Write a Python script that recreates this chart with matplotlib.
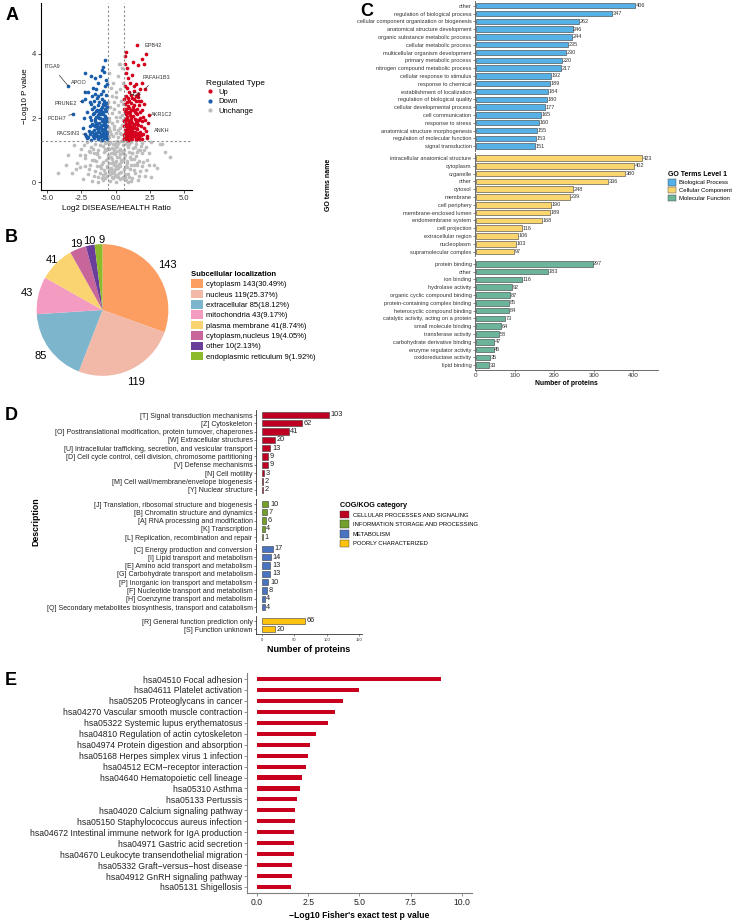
import math
import matplotlib
matplotlib.use('Agg')
import matplotlib.pyplot as plt
from matplotlib.patches import Patch
from matplotlib.lines import Line2D

plt.rcParams['font.family'] = ['Liberation Sans', 'DejaVu Sans']

# ---------------- data ----------------
# A: volcano
up_x = [0.62, 0.7, 0.8, 0.9, 1.0, 1.1, 1.2, 1.35, 1.5, 1.7, 1.9,
        0.65, 0.75, 0.88, 0.98, 1.08, 1.22, 1.4, 1.55, 1.75, 2.0,
        0.63, 0.72, 0.85, 0.95, 1.05, 1.18, 1.3, 1.45, 1.62, 1.85,
        0.68, 0.8, 0.92, 1.02, 1.15, 1.28, 1.42, 1.58, 1.78, 2.1,
        0.66, 0.78, 0.9, 1.0, 1.12, 1.25, 1.38, 1.55, 1.7, 1.95,
        0.7, 0.85, 1.0, 1.15, 1.3, 1.5, 1.65, 1.85, 2.05,
        0.75, 0.95, 1.1, 1.35, 1.6, 1.8, 2.13,
        0.68, 0.9, 1.05, 1.5, 1.9, 0.72, 1.2, 0.8, 1.6, 0.65, 2.05, 1.25, 1.95, 0.7, 0.75, 1.55, 2.22,
        2.37, 2.3, 2.2, 2.4, 0.6, 0.61, 1.45, 1.25, 0.82, 1.65, 0.96, 1.12, 1.35, 0.74, 0.86,
        0.64, 0.77, 0.93, 1.07, 1.19, 1.33, 1.48, 1.68, 0.69, 0.83, 1.04, 1.27, 1.52, 1.72,
        0.67, 0.87, 1.03, 1.23, 1.43, 1.63, 1.83, 2.05, 2.25, 0.79, 1.0, 1.2, 1.4, 1.58, 1.9,
        0.71, 0.88, 1.07, 1.3, 1.5, 1.8, 0.64, 0.93, 1.22, 1.45, 1.72, 2.0, 0.82, 1.3]
up_y = [1.35, 1.42, 1.38, 1.45, 1.33, 1.4, 1.36, 1.44, 1.39, 1.42, 1.35,
        1.55, 1.62, 1.58, 1.66, 1.52, 1.6, 1.56, 1.65, 1.58, 1.5,
        1.75, 1.82, 1.78, 1.88, 1.74, 1.85, 1.79, 1.9, 1.8, 1.76,
        1.98, 2.05, 1.95, 2.1, 2.0, 2.08, 1.97, 2.12, 2.02, 1.95,
        2.2, 2.28, 2.18, 2.32, 2.24, 2.35, 2.2, 2.3, 2.4, 2.25,
        2.45, 2.5, 2.55, 2.48, 2.6, 2.52, 2.65, 2.55, 2.45,
        2.7, 2.8, 2.72, 2.85, 2.75, 2.9, 2.9,
        3.0, 3.25, 3.1, 3.05, 3.1, 3.4, 3.35, 3.55, 3.65, 3.7, 3.7, 3.75, 3.85, 3.95, 4.05, 4.29, 4.0,
        1.84, 1.37, 1.6, 2.1, 1.9, 2.6, 1.32, 1.48, 1.33, 1.48, 1.7, 1.92, 2.42, 2.14, 2.38,
        1.47, 1.5, 1.69, 1.61, 1.72, 1.53, 1.7, 1.36, 1.63, 1.93, 1.46, 1.68, 1.84, 1.95,
        1.4, 1.5, 1.42, 1.55, 1.47, 1.55, 1.47, 1.7, 1.45, 1.71, 1.8, 1.68, 1.82, 1.95, 1.9,
        1.9, 2.15, 2.2, 2.25, 2.15, 2.2, 2.3, 2.62, 2.62, 2.7, 2.55, 2.05, 2.95, 3.0]
down_x = [-0.62, -0.7, -0.82, -0.92, -1.02, -1.15, -1.28, -1.45, -1.6, -1.8, -2.1,
          -0.66, -0.76, -0.9, -1.0, -1.1, -1.25, -1.4, -1.58, -1.75, -1.95,
          -0.64, -0.74, -0.86, -0.98, -1.08, -1.2, -1.35, -1.5, -1.7, -1.9,
          -0.68, -0.8, -0.94, -1.05, -1.18, -1.32, -1.48, -1.62, -1.85, -2.05,
          -0.67, -0.79, -0.92, -1.03, -1.15, -1.28, -1.42, -1.6, -1.78,
          -0.7, -0.86, -1.0, -1.2, -1.35, -1.55, -1.75, -2.2,
          -0.72, -0.9, -1.1, -1.4, -1.65, -2.0, -2.23, -2.47, -3.13, -2.23, -3.45,
          -0.7, -1.3, -0.95, -1.0, -1.8, -2.2, -0.75, -0.85, -1.5, -0.65,
          -2.3, -2.4, -1.25, -0.95, -1.55, -0.78, -1.12, -1.38, -2.15,
          -0.63, -0.77, -0.96, -1.13, -1.3, -1.52, -0.71, -0.88, -1.07, -1.22, -1.44,
          -0.69, -0.88, -1.05, -1.22, -1.42, -1.65, -1.85, -2.0, -0.81, -1.02, -1.2, -1.45, -1.62, -1.82,
          -0.72, -0.9, -1.1, -1.35, -1.55, -1.72, -0.65, -0.95, -1.25, -1.5, -1.9, -0.8, -1.15]
down_y = [1.34, 1.41, 1.37, 1.44, 1.32, 1.4, 1.35, 1.43, 1.38, 1.33, 1.38,
          1.56, 1.63, 1.57, 1.67, 1.52, 1.61, 1.55, 1.64, 1.56, 1.6,
          1.76, 1.83, 1.78, 1.9, 1.74, 1.86, 1.8, 1.92, 1.82, 1.75,
          2.0, 2.06, 1.96, 2.12, 2.01, 2.09, 1.98, 2.14, 2.05, 2.2,
          2.22, 2.3, 2.19, 2.34, 2.25, 2.4, 2.22, 2.35, 2.45,
          2.48, 2.55, 2.6, 2.5, 2.62, 2.55, 2.68, 2.6,
          2.72, 2.85, 2.75, 2.9, 2.95, 2.8, 2.8, 2.52, 2.12, 1.5, 3.0,
          3.2, 3.1, 3.6, 3.5, 3.3, 3.4, 3.8, 3.45, 3.25, 3.05,
          2.0, 1.7, 1.45, 1.48, 1.5, 2.4, 2.0, 1.7, 1.45,
          1.47, 1.51, 1.62, 1.69, 1.73, 1.76, 1.91, 1.87, 2.27, 2.17, 2.03,
          1.45, 1.52, 1.45, 1.56, 1.5, 1.45, 1.5, 1.4, 1.7, 1.8, 1.7, 1.85, 1.78, 1.95,
          1.92, 2.12, 2.2, 2.25, 2.15, 2.3, 2.35, 2.45, 2.7, 2.75, 2.5, 3.0, 3.3]
unch_x = [-2.4, -2.0, -1.7, -1.5, -1.3, -1.1, -0.9, -0.8, -0.6, -0.5, -0.4, -0.3, -0.2, -0.1, 0.0, 0.1,
          0.2, 0.3, 0.4, 0.5, 0.6, 0.75, 0.9, 1.05, 1.2, 1.4, 1.6, 1.8, 2.1, 2.6, -3.2, 3.0,
          -2.8, -2.2, -1.9, -1.6, -1.4, -1.2, -1.0, -0.85, -0.7, -0.55, -0.45, -0.35, -0.25, -0.15, -0.05,
          0.05, 0.15, 0.25, 0.35, 0.45, 0.55, 0.7, 0.85, 1.0, 1.15, 1.3, 1.5, 1.7, 1.95, 2.3, 2.8, -3.5, 3.6,
          -3.0, -2.5, -2.1, -1.8, -1.5, -1.25, -1.05, -0.9, -0.75, -0.62, -0.5, -0.4, -0.3, -0.2, -0.1, 0.0,
          0.1, 0.2, 0.3, 0.4, 0.5, 0.62, 0.78, 0.92, 1.08, 1.25, 1.45, 1.65, 1.9, 2.2, 2.6, 3.2, 3.95, -3.6, -4.2,
          -0.5, -0.35, -0.2, 0.0, 0.2, 0.4, 0.52, -0.45, -0.3, -0.1, 0.1, 0.3, 0.48, -0.5, -0.25, 0.05, 0.25,
          0.45, -0.4, -0.1, 0.15, 0.4, -0.3, 0.05, 0.35, -0.2, 0.2, -0.45, 0.3, 0.45, 0.24,
          -0.15, 0.12, -0.05, 0.08, -0.12, 0.0, 0.18, -0.22, 0.28, -0.32, 0.38, -0.42, 0.02, -0.08, 0.14,
          -0.18, 0.22, -0.26, 0.32, -0.36, 0.55, -0.55, 0.65, -0.65, 0.85, -0.95, 1.1, -1.15, 1.35, -1.35,
          0.95, -0.7, 0.6, -0.6, 0.75, -0.85, 1.2, -1.0, 0.5, -0.48, 0.42, -0.3, 0.1, -0.04, 0.06,
          2.4, -2.6, 1.75, -1.85, 2.0, -2.25, 3.4, -2.9, 0.9, -1.25, 1.55, -1.6,
          -1.95, -1.75, -1.55, -1.35, -1.15, -0.95, -0.75, -0.65, -0.45, -0.28, -0.08, 0.06, 0.26, 0.46,
          0.66, 0.82, 0.98, 1.12, 1.32, 1.52, 1.72, 1.92, 2.2, -2.2, -2.6, -2.3, -1.95, -1.65, -1.35,
          -1.15, -0.8, -0.58, 0.58, 0.82, 1.02, 1.22, 1.38, 1.58, 1.82, 2.05, 2.45, -0.4, 0.35, -0.15,
          0.2, 0.5, -0.52, -0.15, 0.3, 0.52, -0.55, 0.0, -0.35, 0.5]
unch_y = [0.1, 0.25, 0.05, 0.35, 0.15, 0.45, 0.08, 0.3, 0.2, 0.4, 0.05, 0.28, 0.12, 0.38, 0.02, 0.22,
          0.45, 0.1, 0.33, 0.18, 0.42, 0.06, 0.27, 0.4, 0.12, 0.3, 0.08, 0.35, 0.2, 0.15, 0.3, 0.45,
          0.6, 0.75, 0.55, 0.9, 0.65, 0.8, 0.58, 0.95, 0.7, 0.85, 0.6, 0.92, 0.72, 0.55, 0.88,
          0.65, 0.98, 0.78, 0.52, 0.9, 0.68, 0.85, 0.6, 0.95, 0.72, 0.55, 0.82, 0.65, 0.9, 0.7, 0.55, 0.85, 0.95,
          1.15, 1.05, 1.25, 1.1, 1.2, 1.02, 1.28, 1.12, 1.22, 1.05, 1.18, 1.27, 1.08, 1.2, 1.03, 1.25,
          1.12, 1.22, 1.05, 1.28, 1.15, 1.02, 1.2, 1.1, 1.26, 1.06, 1.18, 1.0, 1.22, 1.1, 1.25, 1.2, 0.8, 0.55, 0.3,
          1.4, 1.5, 1.45, 1.55, 1.4, 1.5, 1.35, 1.7, 1.85, 1.75, 1.9, 1.7, 1.8, 2.0, 2.15, 2.05, 2.2,
          2.1, 2.35, 2.5, 2.4, 2.55, 2.7, 2.8, 2.9, 3.1, 3.3, 3.4, 3.7, 3.55, 3.7,
          0.3, 0.5, 0.6, 0.8, 1.0, 0.4, 0.15, 0.9, 1.0, 0.45, 0.7, 0.25, 1.1, 1.15, 1.22,
          0.62, 0.58, 0.35, 0.88, 0.78, 0.98, 1.08, 0.18, 0.48, 0.66, 0.22, 0.05, 0.52, 0.74, 0.92,
          1.2, 1.0, 0.75, 1.25, 0.5, 0.38, 0.9, 0.12, 1.28, 1.05, 0.62, 0.18, 1.3, 0.95, 0.2,
          0.55, 0.48, 1.0, 0.95, 0.62, 0.85, 1.18, 0.4, 0.02, 0.02, 0.55, 0.7,
          0.42, 0.7, 0.2, 0.5, 0.28, 0.62, 0.12, 0.5, 0.32, 0.6, 0.2, 0.45, 0.3, 0.12,
          0.25, 0.48, 0.15, 0.55, 0.38, 0.6, 0.2, 0.52, 0.38, 0.5, 0.85, 1.15, 0.98, 1.05, 0.88,
          1.15, 1.05, 0.75, 0.88, 1.25, 0.8, 0.92, 1.1, 0.95, 1.12, 1.0, 0.9, 1.6, 1.55, 1.65,
          1.62, 1.95, 1.9, 2.3, 2.05, 2.45, 2.5, 2.65, 2.95, 3.1]

gene_names = ['EPB42', 'PAFAH1B3', 'HGF', 'AKR1C2', 'ANKH',
              'ITGA9', 'APOO', 'PRUNE2', 'PCDH7', 'PACSIN3']
gene_x = [2.22, 2.13, 1.7, 2.37, 2.3, -3.45, -2.23, -2.47, -3.13, -2.23]
gene_y = [4.0, 2.9, 2.65, 1.84, 1.37, 3.0, 2.8, 2.52, 2.12, 1.5]
gene_lx = [2.7, 2.93, 1.4, 3.35, 3.35, -4.6, -2.7, -3.6, -4.3, -3.45]
gene_ly = [4.27, 3.28, 2.75, 2.1, 1.61, 3.6, 3.12, 2.46, 2.0, 1.53]

# B: subcellular localization
loc_names = ['cytoplasm', 'nucleus', 'extracellular', 'mitochondria', 'plasma membrane',
             'cytoplasm,nucleus', 'other', 'endoplasmic reticulum']
loc_counts = [143, 119, 85, 43, 41, 19, 10, 9]
loc_pct = ['30.49%', '25.37%', '18.12%', '9.17%', '8.74%', '4.05%', '2.13%', '1.92%']
loc_colors = ['#FC9D61', '#F2B8A8', '#7DB5CC', '#F39BC1', '#F9D470', '#C8669C', '#6B3D9A', '#8DB92C']
lbl_dist = [1.2, 1.21, 1.17, 1.17, 1.08, 1.08, 1.07, 1.07]

# C: GO level 1
bp_terms = ['other', 'regulation of biological process', 'cellular component organization or biogenesis',
            'anatomical structure development', 'organic substance metabolic process',
            'cellular metabolic process', 'multicellular organism development', 'primary metabolic process',
            'nitrogen compound metabolic process', 'cellular response to stimulus', 'response to chemical',
            'establishment of localization', 'regulation of biological quality',
            'cellular developmental process', 'cell communication', 'response to stress',
            'anatomical structure morphogenesis', 'regulation of molecular function', 'signal transduction']
bp_counts = [406, 347, 262, 246, 244, 235, 230, 220, 217, 192, 189, 184, 180, 177, 165, 160, 155, 153, 151]
cc_terms = ['intracellular anatomical structure', 'cytoplasm', 'organelle', 'other', 'cytosol', 'membrane',
            'cell periphery', 'membrane-enclosed lumen', 'endomembrane system', 'cell projection',
            'extracellular region', 'nucleoplasm', 'supramolecular complex']
cc_counts = [423, 402, 380, 336, 248, 239, 190, 189, 168, 116, 106, 103, 97]
mf_terms = ['protein binding', 'other', 'ion binding', 'hydrolase activity', 'organic cyclic compound binding',
            'protein-containing complex binding', 'heterocyclic compound binding',
            'catalytic activity, acting on a protein', 'small molecule binding', 'transferase activity',
            'carbohydrate derivative binding', 'enzyme regulator activity', 'oxidoreductase activity',
            'lipid binding']
mf_counts = [297, 183, 116, 92, 87, 85, 84, 73, 64, 58, 47, 45, 35, 33]
go_levels = ['Biological Process', 'Cellular Component', 'Molecular Function']
go_colors = ['#56B1E6', '#FBD66E', '#6DB59A']

# D: COG/KOG
cps_terms = ['[T] Signal transduction mechanisms', '[Z] Cytoskeleton',
             '[O] Posttranslational modification, protein turnover, chaperones',
             '[W] Extracellular structures',
             '[U] Intracellular trafficking, secretion, and vesicular transport',
             '[D] Cell cycle control, cell division, chromosome partitioning',
             '[V] Defense mechanisms', '[N] Cell motility',
             '[M] Cell wall/membrane/envelope biogenesis', '[Y] Nuclear structure']
cps_counts = [103, 62, 41, 20, 13, 9, 9, 3, 2, 2]
isp_terms = ['[J] Translation, ribosomal structure and biogenesis', '[B] Chromatin structure and dynamics',
             '[A] RNA processing and modification', '[K] Transcription',
             '[L] Replication, recombination and repair']
isp_counts = [10, 7, 6, 4, 1]
met_terms = ['[C] Energy production and conversion', '[I] Lipid transport and metabolism',
             '[E] Amino acid transport and metabolism', '[G] Carbohydrate transport and metabolism',
             '[P] Inorganic ion transport and metabolism', '[F] Nucleotide transport and metabolism',
             '[H] Coenzyme transport and metabolism',
             '[Q] Secondary metabolites biosynthesis, transport and catabolism']
met_counts = [17, 14, 13, 13, 10, 8, 4, 4]
pc_terms = ['[R] General function prediction only', '[S] Function unknown']
pc_counts = [66, 20]
cog_cats = ['CELLULAR PROCESSES AND SIGNALING', 'INFORMATION STORAGE AND PROCESSING',
            'METABOLISM', 'POORLY CHARACTERIZED']
cog_colors = ['#BE0022', '#72A02A', '#4A74C2', '#FFC20E']

# E: KEGG enrichment
kegg_terms = ['hsa04510 Focal adhesion', 'hsa04611 Platelet activation', 'hsa05205 Proteoglycans in cancer',
              'hsa04270 Vascular smooth muscle contraction', 'hsa05322 Systemic lupus erythematosus',
              'hsa04810 Regulation of actin cytoskeleton', 'hsa04974 Protein digestion and absorption',
              'hsa05168 Herpes simplex virus 1 infection', 'hsa04512 ECM\u2212receptor interaction',
              'hsa04640 Hematopoietic cell lineage', 'hsa05310 Asthma', 'hsa05133 Pertussis',
              'hsa04020 Calcium signaling pathway', 'hsa05150 Staphylococcus aureus infection',
              'hsa04672 Intestinal immune network for IgA production', 'hsa04971 Gastric acid secretion',
              'hsa04670 Leukocyte transendothelial migration', 'hsa05332 Graft\u2212versus\u2212host disease',
              'hsa04912 GnRH signaling pathway', 'hsa05131 Shigellosis']
kegg_vals = [9.0, 4.98, 4.2, 3.8, 3.45, 2.9, 2.57, 2.47, 2.4, 2.2, 2.1, 1.97,
             1.85, 1.84, 1.83, 1.82, 1.8, 1.72, 1.71, 1.68]

# ---------------- figure ----------------
W, H = 738, 922
fig = plt.figure(figsize=(W / 100, H / 100), dpi=100)


def add_ax(l, t, r, b):
    # pixel box (from top-left) -> figure axes
    return fig.add_axes([l / W, 1 - b / H, (r - l) / W, (b - t) / H])


for lab, x, y in [('A', 12, 15), ('B', 11, 237), ('C', 367, 11), ('D', 11, 415), ('E', 11, 680)]:
    fig.text(x / W, 1 - y / H, lab, fontsize=13, fontweight='bold', ha='center', va='center')

# ---- A: volcano ----
axA = add_ax(41, 3, 192, 190)
axA.scatter(unch_x, unch_y, s=7, c='#BDBDBD', linewidths=0, zorder=1)
axA.scatter(up_x, up_y, s=7, c='#D4001C', linewidths=0, zorder=2)
axA.scatter(down_x, down_y, s=7, c='#1A5DAB', linewidths=0, zorder=2)
for v in (-0.585, 0.585):
    axA.axvline(v, color='#8C8C8C', ls=(0, (2, 2)), lw=0.8, zorder=3)
axA.axhline(1.301, color='#8C8C8C', ls=(0, (2, 2)), lw=0.8, zorder=3)
for n, px, py, lx, ly in zip(gene_names, gene_x, gene_y, gene_lx, gene_ly):
    axA.annotate(n, xy=(px, py), xytext=(lx, ly), fontsize=4, color='#333333', ha='center', va='center',
                 arrowprops=dict(arrowstyle='-', lw=0.5, color='#333333', shrinkA=3, shrinkB=0))
axA.set_xlim(-5.43, 5.55)
axA.set_ylim(-0.24, 5.59)
axA.set_xticks([-5, -2.5, 0, 2.5, 5])
axA.set_xticklabels(['-5.0', '-2.5', '0.0', '2.5', '5.0'])
axA.set_yticks([0, 2, 4])
axA.tick_params(labelsize=5.5, length=2, width=0.6, pad=1.5, colors='#333333')
for s in ('top', 'right'):
    axA.spines[s].set_visible(False)
for s in ('left', 'bottom'):
    axA.spines[s].set_linewidth(0.8)
axA.set_xlabel('Log2 DISEASE/HEALTH Ratio', fontsize=5.8, labelpad=2)
axA.set_ylabel('\u2212Log10 P value', fontsize=5.8, labelpad=2)
legA = fig.legend([Line2D([], [], ls='', marker='o', ms=2, color=c) for c in ('#D4001C', '#1A5DAB', '#BDBDBD')],
                  ['Up', 'Down', 'Unchange'], loc='upper left', bbox_to_anchor=(202 / W, 1 - 76 / H),
                  frameon=False, fontsize=5.5, title='Regulated Type', title_fontsize=6, alignment='left',
                  borderpad=0, handlelength=1.2, handletextpad=0.4, labelspacing=0.25)

# ---- B: pie ----
axB = add_ax(102.5 - 80, 310 - 80, 102.5 + 80, 310 + 80)
wedges, _ = axB.pie(loc_counts, colors=loc_colors, startangle=90, counterclock=False, radius=1,
                    wedgeprops=dict(linewidth=0))
for k, (w, c, d) in enumerate(zip(wedges, loc_counts, lbl_dist)):
    mid = math.radians((w.theta1 + w.theta2) / 2)
    axB.text(d * math.cos(mid), d * math.sin(mid), str(c), fontsize=8, va='center',
             ha='left' if k == len(wedges) - 1 else 'center')
axB.set_xlim(-1.215, 1.215)
axB.set_ylim(-1.215, 1.215)
axB.set_aspect('equal')
legB = fig.legend([Patch(facecolor=c) for c in loc_colors],
                  ['%s %d(%s)' % (n, c, p) for n, c, p in zip(loc_names, loc_counts, loc_pct)],
                  loc='upper left', bbox_to_anchor=(187 / W, 1 - 267 / H), frameon=False, fontsize=5.5,
                  title='Subcellular localization', title_fontproperties=dict(weight='bold', size=5.5),
                  alignment='left', borderpad=0, handlelength=1.6, handleheight=1.35,
                  handletextpad=0.4, labelspacing=0.2)

# ---- C: GO bars (three facets) ----
c_rows = 7.8
c_groups = [(bp_terms, bp_counts, go_colors[0], 5.7),
            (cc_terms, cc_counts, go_colors[1], 158.0),
            (mf_terms, mf_counts, go_colors[2], 263.8)]
for k, (terms, counts, col, first) in enumerate(c_groups):
    n = len(terms)
    top = first - 0.6 * c_rows
    ax = add_ax(475, top, 658, top + (n + 0.2) * c_rows)
    ax.barh(range(n), counts, height=0.7, color=col, edgecolor='#3A3A3A', linewidth=0.4)
    for i, v in enumerate(counts):
        ax.text(v + 1.5, i, str(v), fontsize=4, va='center', ha='left', color='#333333')
    ax.set_ylim(n - 0.4, -0.6)
    ax.set_xlim(-2.5, 463.7)
    ax.set_yticks(range(n))
    ax.set_yticklabels(terms)
    ax.tick_params(axis='y', labelsize=4.1, length=1.5, width=0.4, pad=1, colors='#333333')
    for s in ('top', 'right'):
        ax.spines[s].set_visible(False)
    ax.spines['left'].set_linewidth(0.6)
    ax.spines['left'].set_color('#555555')
    if k < 2:
        ax.spines['bottom'].set_visible(False)
        ax.set_xticks([])
    else:
        ax.spines['bottom'].set_linewidth(0.6)
        ax.spines['bottom'].set_color('#555555')
        ax.set_xticks([0, 100, 200, 300, 400])
        ax.tick_params(axis='x', labelsize=4.6, length=1.5, width=0.4, pad=1, colors='#333333')
        ax.set_xlabel('Number of proteins', fontsize=4.9, fontweight='bold', labelpad=1)
fig.text(328 / W, 1 - 185 / H, 'GO terms name', rotation=90, fontsize=5, fontweight='bold',
         ha='center', va='center')
legC = fig.legend([Patch(facecolor=c, edgecolor='#3A3A3A', linewidth=0.3) for c in go_colors], go_levels,
                  loc='upper left', bbox_to_anchor=(665 / W, 1 - 168 / H), frameon=False, fontsize=4.3,
                  title='GO Terms Level 1', title_fontproperties=dict(weight='bold', size=5),
                  alignment='left', borderpad=0, handlelength=1.3, handleheight=1.3,
                  handletextpad=0.5, labelspacing=0.2)

# ---- D: COG/KOG ----
d_rows = 8.3
d_groups = [(cps_terms, cps_counts, cog_colors[0], 415.0),
            (isp_terms, isp_counts, cog_colors[1], 504.0),
            (met_terms, met_counts, cog_colors[2], 549.0),
            (pc_terms, pc_counts, cog_colors[3], 621.0)]
for k, (terms, counts, col, first) in enumerate(d_groups):
    n = len(terms)
    top = first - 0.6 * d_rows
    ax = add_ax(256, top, 362, top + (n + 0.2) * d_rows)
    ax.barh(range(n), counts, height=0.75, color=col, edgecolor='#3A3A3A', linewidth=0.4)
    for i, v in enumerate(counts):
        ax.text(v + 2.5, i, str(v), fontsize=5.3, va='center', ha='left', color='#222222')
    ax.set_ylim(n - 0.4, -0.6)
    ax.set_xlim(-9.3, 154.5)
    ax.set_yticks(range(n))
    ax.set_yticklabels(terms)
    ax.tick_params(axis='y', labelsize=5.0, length=1.5, width=0.4, pad=1, colors='#222222')
    for s in ('top', 'right'):
        ax.spines[s].set_visible(False)
    ax.spines['left'].set_linewidth(0.6)
    ax.spines['left'].set_color('#333333')
    if k < 3:
        ax.spines['bottom'].set_visible(False)
        ax.set_xticks([])
    else:
        ax.spines['bottom'].set_linewidth(0.6)
        ax.spines['bottom'].set_color('#333333')
        ax.set_xticks([0, 50, 100, 150])
        ax.tick_params(axis='x', labelsize=3, length=1.5, width=0.4, pad=1, colors='#333333')
        ax.set_xlabel('Number of proteins', fontsize=6.5, fontweight='bold', labelpad=2)
fig.text(36 / W, 1 - 522 / H, 'Description', rotation=90, fontsize=6.3, fontweight='bold',
         ha='center', va='center')
legD = fig.legend([Patch(facecolor=c, edgecolor='#3A3A3A', linewidth=0.3) for c in cog_colors], cog_cats,
                  loc='upper left', bbox_to_anchor=(337 / W, 1 - 499 / H), frameon=False, fontsize=4.2,
                  title='COG/KOG category', title_fontproperties=dict(weight='bold', size=5.2),
                  alignment='left', borderpad=0, handlelength=1.6, handleheight=1.6,
                  handletextpad=0.6, labelspacing=0.35)

# ---- E: KEGG ----
axE = add_ax(247, 673, 472, 893)
axE.barh(range(len(kegg_terms)), kegg_vals, height=0.38, color='#C8001E')
axE.set_ylim(len(kegg_terms) - 0.45, -0.55)
axE.set_xlim(-0.49, 10.5)
axE.set_yticks(range(len(kegg_terms)))
axE.set_yticklabels(kegg_terms)
axE.set_xticks([0, 2.5, 5, 7.5, 10])
axE.set_xticklabels(['0.0', '2.5', '5.0', '7.5', '10.0'])
axE.tick_params(labelsize=6.2, length=2, width=0.6, pad=1.5, colors='#222222')
axE.tick_params(axis='both', color='#7F7F7F')
for s in ('top', 'right'):
    axE.spines[s].set_visible(False)
for s in ('left', 'bottom'):
    axE.spines[s].set_linewidth(0.8)
    axE.spines[s].set_color('#7F7F7F')
axE.set_xlabel("\u2212Log10 Fisher's exact test p value", fontsize=6.2, fontweight='bold', labelpad=3)

fig.savefig('out.png', dpi=100)
